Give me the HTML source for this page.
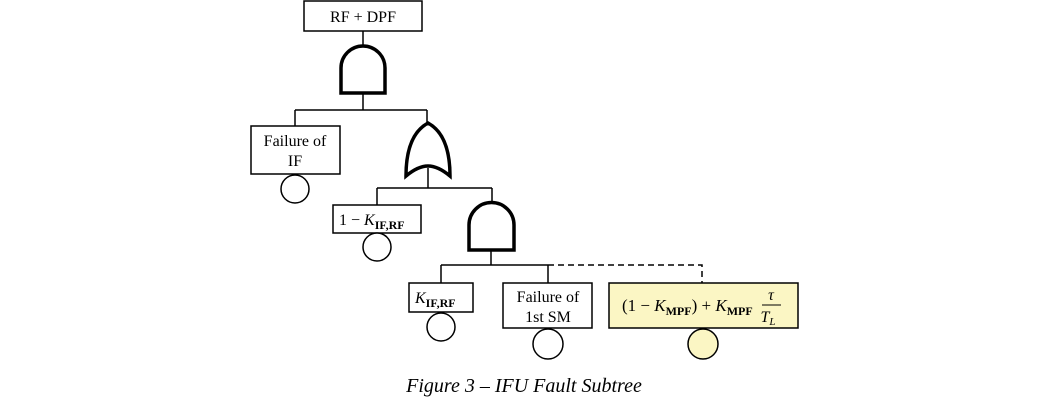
<!DOCTYPE html>
<html><head><meta charset="utf-8"><style>
html,body{margin:0;padding:0;background:#fff;}
svg{display:block;}
text{font-family:"Liberation Serif",serif;fill:#000;}
</style></head><body>
<svg width="1049" height="401" viewBox="0 0 1049 401" xmlns="http://www.w3.org/2000/svg">
<g fill="none" stroke="#000" stroke-width="1.5">
<rect x="304" y="1" width="118" height="30" fill="#fff"/>
<line x1="363" y1="31" x2="363" y2="47"/>
<path d="M341 93 L341 68 A22 22 0 0 1 385 68 L385 93 Z" stroke-width="3.5"/>
<line x1="363" y1="93" x2="363" y2="110"/>
<line x1="295" y1="110" x2="427" y2="110"/>
<line x1="295" y1="110" x2="295" y2="126"/>
<line x1="427" y1="110" x2="427" y2="123"/>
<rect x="251" y="126" width="89" height="48" fill="#fff"/>
<circle cx="295" cy="189" r="14" fill="#fff"/>
<path d="M428 123 Q450 135 450 176 Q438 166 428 166 Q418 166 406 176 Q406 135 428 123 Z" stroke-width="3.5"/>
<line x1="428" y1="168" x2="428" y2="188"/>
<line x1="377" y1="188" x2="492" y2="188"/>
<line x1="377" y1="188" x2="377" y2="205"/>
<line x1="492" y1="188" x2="492" y2="202"/>
<rect x="333" y="205" width="88" height="28" fill="#fff"/>
<circle cx="377" cy="247" r="14" fill="#fff"/>
<path d="M469 250 L469 225 A22.5 22.5 0 0 1 514 225 L514 250 Z" stroke-width="3.5"/>
<line x1="491" y1="250" x2="491" y2="265"/>
<line x1="441" y1="265" x2="548" y2="265"/>
<line x1="441" y1="265" x2="441" y2="283"/>
<line x1="548" y1="265" x2="548" y2="283"/>
<path d="M548 265 L702 265 L702 283" stroke-dasharray="6,4"/>
<rect x="409" y="283" width="64" height="29" fill="#fff"/>
<circle cx="441" cy="327" r="14" fill="#fff"/>
<rect x="503" y="283" width="89" height="45" fill="#fff"/>
<circle cx="548" cy="344" r="15" fill="#fff"/>
<rect x="609" y="283" width="189" height="45" fill="#fbf6c4"/>
<circle cx="703" cy="344" r="15" fill="#fbf6c4"/>
</g>
<text x="363" y="22" font-size="16" text-anchor="middle">RF + DPF</text>
<text x="295" y="146" font-size="16" text-anchor="middle">Failure of</text>
<text x="295" y="166" font-size="16" text-anchor="middle">IF</text>
<text x="339" y="225" font-size="16">1 − <tspan font-style="italic">K</tspan><tspan font-size="12" font-weight="bold" dy="4">IF,RF</tspan></text>
<text x="415" y="303" font-size="16"><tspan font-style="italic">K</tspan><tspan font-size="12" font-weight="bold" dy="4">IF,RF</tspan></text>
<text x="548" y="302" font-size="16" text-anchor="middle">Failure of</text>
<text x="548" y="322" font-size="16" text-anchor="middle">1st SM</text>
<text x="622" y="311" font-size="17">(1 − <tspan font-style="italic">K</tspan><tspan font-size="12" font-weight="bold" dy="4">MPF</tspan><tspan dy="-4">) + </tspan><tspan font-style="italic">K</tspan><tspan font-size="12" font-weight="bold" dy="4">MPF</tspan></text>
<text x="771" y="300" font-size="16" font-style="italic" text-anchor="middle">τ</text>
<line x1="762" y1="305" x2="781" y2="305" stroke="#000" stroke-width="1"/>
<text x="768" y="322" font-size="16" font-style="italic" text-anchor="middle">T<tspan font-size="11" dy="3">L</tspan></text>
<text x="524" y="392" font-size="20" font-style="italic" text-anchor="middle">Figure 3 – IFU Fault Subtree</text>
</svg>
</body></html>
